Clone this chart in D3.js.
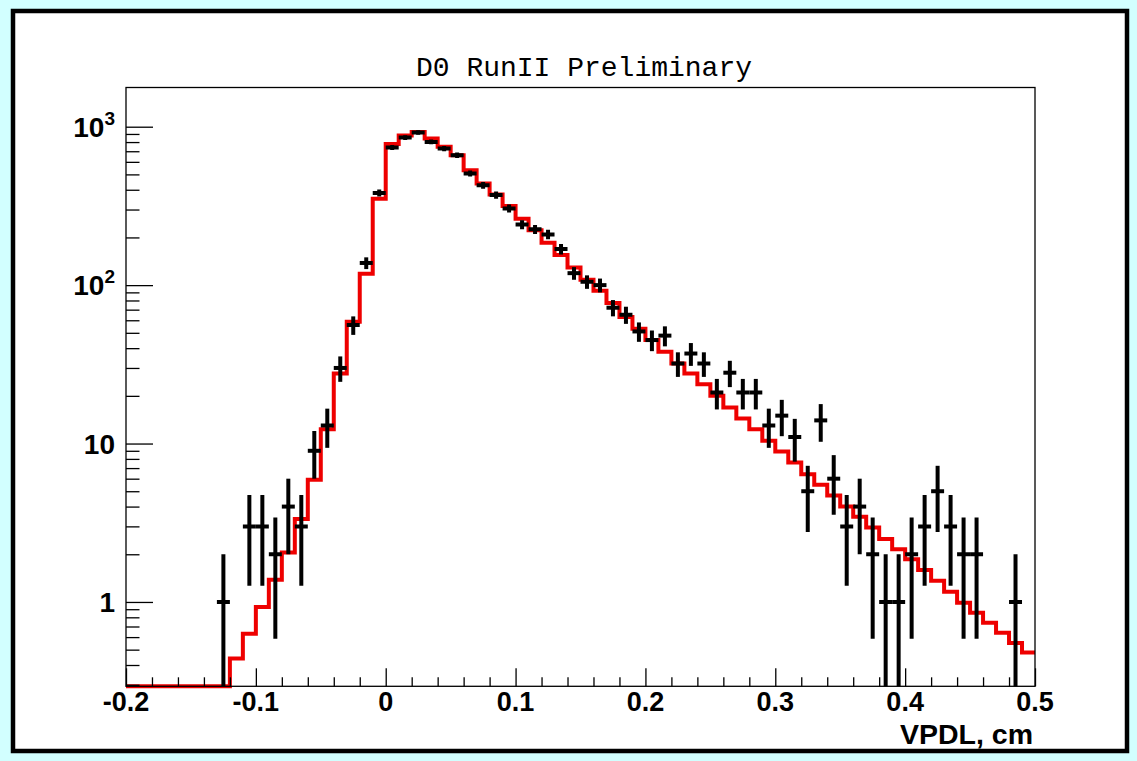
<!DOCTYPE html>
<html><head><meta charset="utf-8">
<script src="https://cdn.jsdelivr.net/npm/d3@7"></script>
<style>html,body{margin:0;padding:0;background:#d2ffff;} svg{display:block}</style>
</head><body><svg id="c" width="1137" height="761"></svg>
<script>
// ---- data (70 bins of 0.01 cm from -0.2 to 0.5) ----
const binEdges = d3.range(71).map(i => +(-0.2 + i * 0.01).toFixed(2));
const dataCounts = [
  0,0,0,0,0,0,0,1,0,3,
  3,2,4,3,9,13,30,56,138,382,
  739,855,919,802,728,661,507,427,370,305,
  241,225,209,169,119,105,100,72,65,51,
  45,48,32,37,32,21,28,21,21,13,
  15,11,5,14,6,3,4,2,1,1,
  2,3,5,3,2,2,0,0,1,0
];
const fitValues = [
  0,0,0,0,0,0,0,0,0.44,0.63,
  0.93,1.38,2.05,3.34,5.9,12.3,27.7,58.7,118,351,
  778,880,927,843,746,661,532,438,373,316,
  262,222,185,155,129,108,92,77,63,53,
  45,38,32,27.7,23.7,20,16.9,14.4,12.3,10.4,
  8.9,7.6,6.4,5.5,4.7,4.0,3.45,2.95,2.5,2.15,
  1.86,1.59,1.36,1.16,0.99,0.856,0.74,0.64,0.55,0.48
];
const xTickValues = [-0.2,-0.1,0,0.1,0.2,0.3,0.4,0.5];
const xTickLabels = ["-0.2","-0.1","0","0.1","0.2","0.3","0.4","0.5"];
const yTickValues = [1,10,100,1000];
const yTickBase = ["1","10","10","10"];
const yTickSup = ["","","2","3"];
const titleText = "D0 RunII Preliminary";
const xTitleText = "VPDL, cm";

// ---- layout ----
const svg = d3.select("#c");
const L = 126, R = 1035, T = 87.5, B = 686.3;
const yMin = 0.2935, yMax = 1768;
const x = d3.scaleLinear().domain([-0.2, 0.5]).range([L, R]);
const y = d3.scaleLog().domain([yMin, yMax]).range([B, T]);

svg.append("rect").attr("x",13).attr("y",11).attr("width",1114).attr("height",740)
  .attr("fill","#fff").attr("stroke","#000").attr("stroke-width",4.5);

svg.append("defs").append("clipPath").attr("id","pc")
  .append("rect").attr("x",L).attr("y",T).attr("width",R-L).attr("height",B-T);

// title
svg.append("text").attr("x",584).attr("y",76).attr("text-anchor","middle")
  .attr("font-family","'Liberation Mono', 'DejaVu Sans Mono', monospace")
  .attr("font-size",28).attr("fill","#000").text(titleText);

// fit histogram (step line)
const pts = fitValues.map((v,i) => [binEdges[i], v]);
pts.push([binEdges[70], fitValues[69]]);
const line = d3.line().x(d => x(d[0])).y(d => y(Math.max(d[1], yMin))).curve(d3.curveStepAfter);
svg.append("path").datum(pts).attr("d", line).attr("fill","none")
  .attr("stroke","#ee0000").attr("stroke-width",4).attr("stroke-linejoin","miter");

// data points with errors
const dg = svg.append("g").attr("clip-path","url(#pc)");
const pd = dataCounts.map((n,i) => ({n, lo: binEdges[i], hi: binEdges[i+1]})).filter(d => d.n > 0);
dg.selectAll("line.v").data(pd).enter().append("line")
  .attr("x1", d => x((d.lo+d.hi)/2)).attr("x2", d => x((d.lo+d.hi)/2))
  .attr("y1", d => y(Math.max(d.n + Math.sqrt(d.n), yMin)))
  .attr("y2", d => { const l = d.n - Math.sqrt(d.n); return l > yMin ? y(l) : B + 5; })
  .attr("stroke","#000").attr("stroke-width",4);
dg.selectAll("line.h").data(pd).enter().append("line")
  .attr("x1", d => x(d.lo)).attr("x2", d => x(d.hi))
  .attr("y1", d => y(d.n)).attr("y2", d => y(d.n))
  .attr("stroke","#000").attr("stroke-width",4);

// frame
svg.append("rect").attr("x",L).attr("y",T).attr("width",R-L).attr("height",B-T)
  .attr("fill","none").attr("stroke","#000").attr("stroke-width",1.3);

// y axis ticks
const yMinor = y.ticks().filter(v => yTickValues.indexOf(v) < 0 && v >= yMin && v <= yMax);
const gyMinor = svg.append("g").attr("transform",`translate(${L},0)`)
  .call(d3.axisLeft(y).tickValues(yMinor).tickSize(-13.5).tickFormat(""));
const gy = svg.append("g").attr("transform",`translate(${L},0)`)
  .call(d3.axisLeft(y).tickValues(yTickValues).tickSize(-27).tickFormat(""));
[gyMinor, gy].forEach(g => { g.select(".domain").remove(); g.selectAll("line").attr("stroke","#000").attr("stroke-width",1.3); });

// x axis ticks
const xMinor = d3.range(0, 36).map(i => +(-0.2 + i*0.02).toFixed(2)).filter(v => xTickValues.indexOf(v) < 0);
const gxMinor = svg.append("g").attr("transform",`translate(0,${B})`)
  .call(d3.axisBottom(x).tickValues(xMinor).tickSize(-9).tickFormat(""));
const gx = svg.append("g").attr("transform",`translate(0,${B})`)
  .call(d3.axisBottom(x).tickValues(xTickValues).tickSize(-18).tickFormat(""));
[gxMinor, gx].forEach(g => { g.select(".domain").remove(); g.selectAll("line").attr("stroke","#000").attr("stroke-width",1.3); });

// labels
const sans = "'Liberation Sans', Arial, Helvetica, sans-serif";
svg.append("g").selectAll("text").data(xTickValues).enter().append("text")
  .attr("x", d => x(d)).attr("y", 711).attr("text-anchor","middle")
  .attr("font-family", sans).attr("font-weight","bold").attr("font-size",27)
  .text((d,i) => xTickLabels[i]);

const yl = svg.append("g").selectAll("text").data(yTickValues).enter().append("text")
  .attr("x", 115).attr("y", d => y(d) + 10).attr("text-anchor","end")
  .attr("font-family", sans).attr("font-weight","bold").attr("font-size",28);
yl.append("tspan").text((d,i) => yTickBase[i]);
yl.append("tspan").attr("dy", -12).attr("font-size",19).text((d,i) => yTickSup[i]);

svg.append("text").attr("x",1033).attr("y",744).attr("text-anchor","end")
  .attr("font-family", sans).attr("font-weight","bold").attr("font-size",28.5)
  .text(xTitleText);
</script></body></html>
